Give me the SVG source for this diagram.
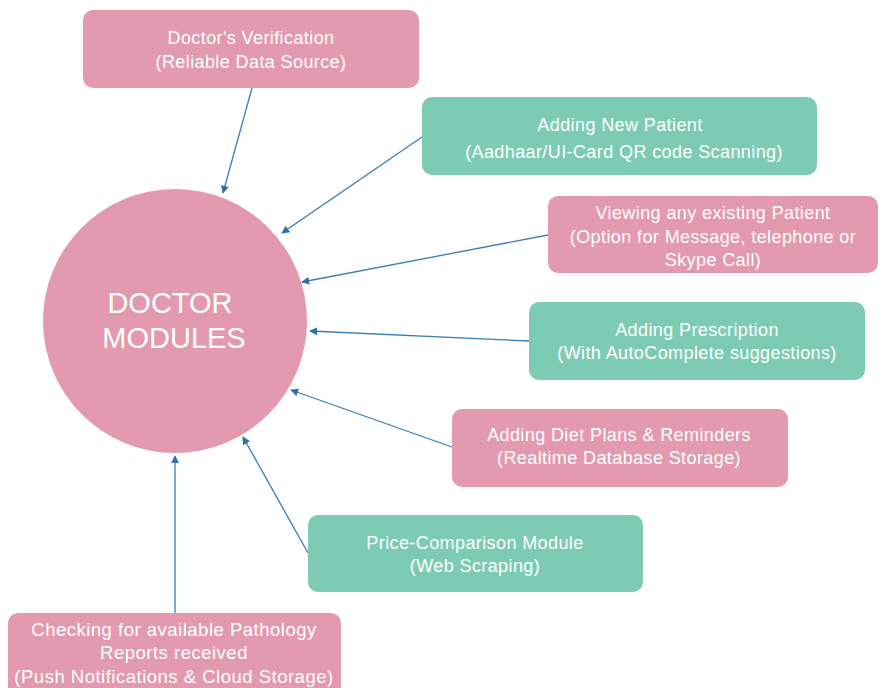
<svg xmlns="http://www.w3.org/2000/svg" width="880" height="688" viewBox="0 0 880 688">
<style>
.pink{fill:#E39AAE}
.green{fill:#7DCBB3}
.t{font-family:"Liberation Sans",Arial,sans-serif;font-size:18px;letter-spacing:0.4px;fill:#fff;text-anchor:middle}
.tp{font-family:"Liberation Sans",Arial,sans-serif;font-size:18.5px;letter-spacing:0.5px;fill:#fff;text-anchor:middle}
.big{font-family:"Liberation Sans",Arial,sans-serif;font-size:29px;fill:#fff;text-anchor:middle}
.c{stroke:#3C7DB4;stroke-width:1.3;fill:none;marker-end:url(#ah)}
</style>
<defs>
<marker id="ah" viewBox="0 0 10 10" refX="9" refY="5" markerWidth="8" markerHeight="8" markerUnits="userSpaceOnUse" orient="auto">
<path d="M0,0 L10,5 L0,10 z" fill="#2F6FA8"/>
</marker>
</defs>
<rect width="880" height="688" fill="#fff"/>
<g id="connectors">
<line class="c" x1="252" y1="88" x2="223" y2="193"/>
<line class="c" x1="422" y1="137" x2="282" y2="233"/>
<line class="c" x1="548" y1="235" x2="302" y2="282"/>
<line class="c" x1="529" y1="341" x2="310" y2="331"/>
<line class="c" x1="452" y1="447" x2="291" y2="390"/>
<line class="c" x1="308" y1="553" x2="243" y2="437"/>
<line class="c" x1="175" y1="613" x2="175" y2="456"/>
</g>
<g id="doctor-modules">
<circle class="pink" cx="175" cy="321" r="132"/>
<text class="big" x="170" y="313">DOCTOR</text>
<text class="big" x="174" y="348">MODULES</text>
</g>
<g id="doctors-verification">
<rect class="pink" x="83" y="10" width="336" height="78" rx="10"/>
<text class="t" x="251" y="44">Doctor's Verification</text>
<text class="t" x="251" y="68">(Reliable Data Source)</text>
</g>
<g id="adding-new-patient">
<rect class="green" x="422" y="97" width="395" height="78" rx="10"/>
<text class="t" x="620" y="131">Adding New Patient</text>
<text class="t" x="624" y="158">(Aadhaar/UI-Card QR code Scanning)</text>
</g>
<g id="viewing-patient">
<rect class="pink" x="548" y="196" width="330" height="77" rx="10"/>
<text class="t" x="713" y="219">Viewing any existing Patient</text>
<text class="t" x="713" y="243">(Option for Message, telephone or</text>
<text class="t" x="713" y="266">Skype Call)</text>
</g>
<g id="adding-prescription">
<rect class="green" x="529" y="302" width="336" height="78" rx="10"/>
<text class="t" x="697" y="336">Adding Prescription</text>
<text class="t" x="697" y="359">(With AutoComplete suggestions)</text>
</g>
<g id="diet-plans">
<rect class="pink" x="452" y="409" width="336" height="78" rx="10"/>
<text class="t" x="619" y="441">Adding Diet Plans &amp; Reminders</text>
<text class="t" x="619" y="464">(Realtime Database Storage)</text>
</g>
<g id="price-comparison">
<rect class="green" x="308" y="515" width="335" height="77" rx="10"/>
<text class="t" x="475" y="549">Price-Comparison Module</text>
<text class="t" x="475" y="572">(Web Scraping)</text>
</g>
<g id="pathology">
<rect class="pink" x="8" y="613" width="333" height="85" rx="10"/>
<text class="tp" x="174" y="636">Checking for available Pathology</text>
<text class="tp" x="174" y="659">Reports received</text>
<text class="tp" x="174" y="683">(Push Notifications &amp; Cloud Storage)</text>
</g>
</svg>
